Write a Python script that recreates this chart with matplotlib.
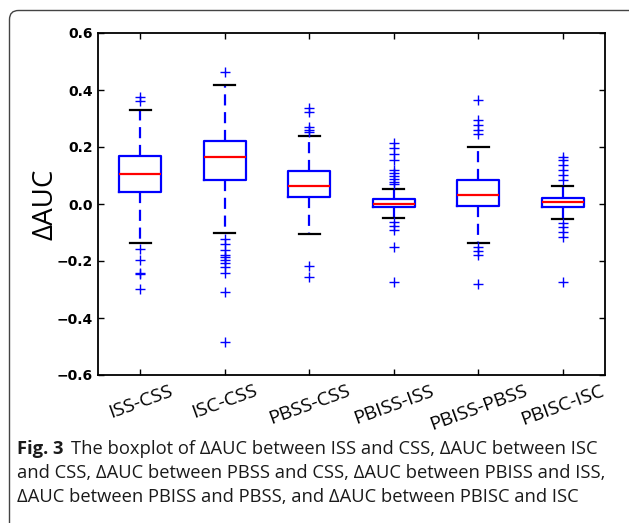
import matplotlib
matplotlib.use('Agg')
import matplotlib.pyplot as plt
from matplotlib.patches import FancyBboxPatch

# values
labels = ['ISS-CSS', 'ISC-CSS', 'PBSS-CSS', 'PBISS-ISS', 'PBISS-PBSS', 'PBISC-ISC']
medians = [0.105, 0.166, 0.064, 0.000, 0.033, 0.006]
q1 = [0.041, 0.083, 0.023, -0.009, -0.006, -0.009]
q3 = [0.168, 0.220, 0.115, 0.018, 0.083, 0.022]
whislo = [-0.137, -0.103, -0.105, -0.048, -0.137, -0.053]
whishi = [0.330, 0.418, 0.240, 0.054, 0.201, 0.063]
fliers = [
    [0.374, 0.363, -0.159, -0.198, -0.242, -0.245, -0.297],
    [0.464, -0.124, -0.140, -0.162, -0.179, -0.187, -0.196, -0.208, -0.222,
     -0.241, -0.309, -0.484],
    [0.336, 0.324, 0.271, 0.260, 0.252, -0.218, -0.257],
    [0.215, 0.195, 0.174, 0.154, 0.119, 0.110, 0.099, 0.089, 0.078, 0.069,
     -0.062, -0.076, -0.091, -0.150, -0.274],
    [0.365, 0.295, 0.277, 0.260, 0.245, -0.150, -0.164, -0.179, -0.280],
    [0.166, 0.154, 0.137, 0.119, 0.102, 0.084, -0.068, -0.082, -0.097,
     -0.115, -0.274],
]
yticks = [-0.6, -0.4, -0.2, 0.0, 0.2, 0.4, 0.6]

caption_bold = 'Fig. 3'
caption = [
    'The boxplot of ΔAUC between ISS and CSS, ΔAUC between ISC',
    'and CSS, ΔAUC between PBSS and CSS, ΔAUC between PBISS and ISS,',
    'ΔAUC between PBISS and PBSS, and ΔAUC between PBISC and ISC',
]

stats = []
for i in range(len(labels)):
    stats.append(dict(label=labels[i], med=medians[i], q1=q1[i], q3=q3[i],
                      whislo=whislo[i], whishi=whishi[i], fliers=fliers[i]))

W, H = 629, 523
fig = plt.figure(figsize=(W / 100, H / 100), dpi=100)

# background axes in pixel units for the rounded frame
bg = fig.add_axes([0, 0, 1, 1])
bg.set_xlim(0, W)
bg.set_ylim(H, 0)
bg.axis('off')
bg.add_patch(FancyBboxPatch((9.5, 10.5), 700, 600,
                            boxstyle='round,pad=0,rounding_size=9',
                            fill=False, edgecolor='#444444', linewidth=1.0))

ax = fig.add_axes([98 / W, 1 - 375 / H, 507 / W, 342 / H])
ax.bxp(stats, widths=0.5,
       boxprops=dict(color='blue', linewidth=1.6),
       medianprops=dict(color='red', linewidth=1.6),
       whiskerprops=dict(color='blue', linewidth=1.6, linestyle=(0, (5, 3))),
       capprops=dict(color='black', linewidth=1.6),
       flierprops=dict(marker='+', markeredgecolor='blue', markersize=6.5,
                       markeredgewidth=1.0, linestyle='none'))

ax.set_ylim(-0.6, 0.6)
ax.set_xlim(0.5, 6.5)
ax.set_yticks(yticks)
ax.set_yticklabels(['%.1f' % t if t >= 0 else '\u2212%.1f' % -t for t in yticks],
                   fontsize=10, fontweight='bold')
ax.set_xticklabels(labels, rotation=20, fontsize=14, family='Open Sans',
                   ha='center', va='top')
ax.tick_params(direction='in', top=True, right=True, length=4, width=1)
ax.tick_params(axis='x', pad=5)
for s in ax.spines.values():
    s.set_linewidth(1.3)
ax.set_ylabel('ΔAUC', fontsize=20, family='Open Sans', labelpad=-2)

# caption
ys = [449, 473, 497]
fs = 13.2
fig.text(17 / W, 1 - ys[0] / H, caption_bold, fontsize=fs, family='Open Sans',
         fontweight='bold', va='center', ha='left', color='#1a1a1a')
fig.text(71 / W, 1 - ys[0] / H, caption[0], fontsize=fs, family='Open Sans',
         va='center', ha='left', color='#1a1a1a')
for line, y in zip(caption[1:], ys[1:]):
    fig.text(17 / W, 1 - y / H, line, fontsize=fs, family='Open Sans',
             va='center', ha='left', color='#1a1a1a')

fig.savefig('out.png', dpi=100)
